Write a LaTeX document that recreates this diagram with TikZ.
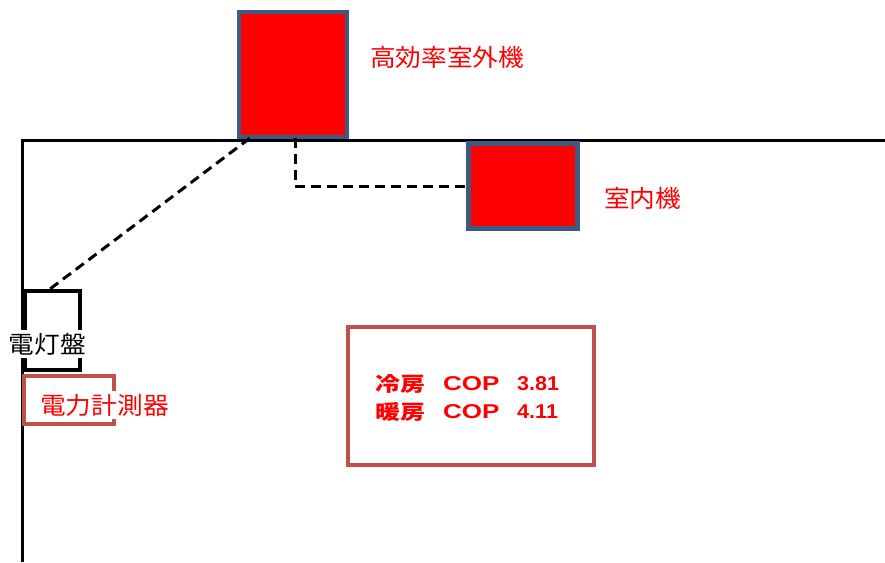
\documentclass[tikz,border=0pt]{standalone}
\usepackage{fontspec}
\newfontfamily\jp{Noto Sans CJK JP}[FakeStretch=1.07]
\newfontfamily\jpb{Noto Sans CJK JP Bold}[FakeStretch=1.25]
\newfontfamily\ls{Liberation Sans}[FakeStretch=1.3]
\newfontfamily\lsd{Liberation Sans}[FakeStretch=1.08]
\definecolor{unitborder}{HTML}{3C5A82}
\definecolor{boxred}{HTML}{C0504D}
\usetikzlibrary{calc}
\tikzset{
  unit/.style={draw=unitborder, fill=red, line width=4.5pt, inner sep=0pt},
  lbl/.style={text=red, font=\jp\fontsize{24}{28}\selectfont, inner sep=0pt},
  pipe/.style={line width=3pt, dash pattern=on 10pt off 6pt},
  wall/.style={line width=3pt},
  redbox/.style={draw=boxred, line width=4pt},
  coptxt/.style={text=red, font=\fontsize{20}{24}\selectfont\bfseries, inner sep=0pt, anchor=west},
}
\begin{document}
\begin{tikzpicture}[x=1pt,y=-1pt]
\useasboundingbox (0,0) rectangle (885,562);
% walls
\draw[wall] (885,140) -- (22,140) -- (22,562);
% units
\node[unit, minimum width=108pt, minimum height=125pt] (out) at (293,74.5) {};
\node[unit, minimum width=109pt, minimum height=85pt] (in) at (523,186) {};
\node[lbl, anchor=west] (outlbl) at (370,57) {高効率室外機};
\node[lbl, anchor=west] (inlbl) at (604,198) {室内機};
% panel
\node[draw, line width=4pt, minimum width=55pt, minimum height=79pt, inner sep=0pt] (pan) at (52.5,330.5) {};
\node[lbl, text=black, fill=white, inner ysep=3pt, inner xsep=0pt] (pantxt) at (47.5,344) {電灯盤};
% meter
\node[redbox, minimum width=90pt, minimum height=48pt, inner sep=0pt] (met) at (69,400) {};
\node[lbl, fill=white, inner ysep=3pt] (mettxt) at (104.5,405) {電力計測器};
% pipes
\draw[pipe] ($(out.south west)+(13,-1)$) -- ($(pan.north west)+(27,0)$);
\draw[pipe] ($(out.south)+(2,-1)$) |- (in.west);
% COP box
\node[redbox, minimum width=246pt, minimum height=138pt, inner sep=0pt] (cop) at (471,396) {};
\node[coptxt] (c1a) at (375,384) {\jpb 冷房};
\node[coptxt] (c1b) at (443,384) {\ls COP};
\node[coptxt] (c1c) at (517,384) {\lsd 3.81};
\node[coptxt] (c2a) at (375,412) {\jpb 暖房};
\node[coptxt] (c2b) at (443,412) {\ls COP};
\node[coptxt] (c2c) at (517,412) {\lsd 4.11};
\end{tikzpicture}
\end{document}
